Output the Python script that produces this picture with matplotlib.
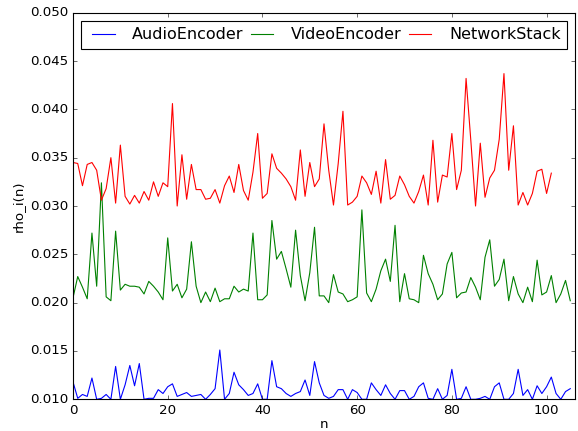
import matplotlib
matplotlib.use("Agg")
import matplotlib.pyplot as plt
import numpy as np

audio = [0.0118, 0.0101, 0.0105, 0.0103, 0.0122, 0.0100, 0.0101, 0.0105, 0.0100, 0.0134,
         0.0100, 0.0115, 0.0135, 0.0114, 0.0137, 0.0100, 0.0101, 0.0101, 0.0110, 0.0106,
         0.0113, 0.0116, 0.0103, 0.0105, 0.0107, 0.0103, 0.0104, 0.0105, 0.0100, 0.0105,
         0.0111, 0.0151, 0.0100, 0.0106, 0.0128, 0.0115, 0.0110, 0.0104, 0.0106, 0.0116,
         0.0100, 0.0100, 0.0140, 0.0113, 0.0111, 0.0106, 0.0103, 0.0106, 0.0108, 0.0120,
         0.0104, 0.0139, 0.0117, 0.0104, 0.0101, 0.0103, 0.0110, 0.0110, 0.0100, 0.0110,
         0.0107, 0.0100, 0.0100, 0.0117, 0.0110, 0.0104, 0.0115, 0.0106, 0.0100, 0.0109,
         0.0109, 0.0100, 0.0103, 0.0113, 0.0117, 0.0101, 0.0100, 0.0111, 0.0100, 0.0104,
         0.0131, 0.0100, 0.0101, 0.0113, 0.0100, 0.0100, 0.0101, 0.0103, 0.0100, 0.0113,
         0.0117, 0.0100, 0.0100, 0.0106, 0.0131, 0.0104, 0.0110, 0.0100, 0.0114, 0.0106,
         0.0113, 0.0123, 0.0106, 0.0100, 0.0108, 0.0111]

video = [0.0205, 0.0227, 0.0216, 0.0204, 0.0272, 0.0217, 0.0324, 0.0206, 0.0202, 0.0274,
         0.0213, 0.0219, 0.0217, 0.0217, 0.0216, 0.0209, 0.0222, 0.0217, 0.0211, 0.0203,
         0.0267, 0.0212, 0.0219, 0.0205, 0.0214, 0.0263, 0.0217, 0.0200, 0.0211, 0.0201,
         0.0215, 0.0201, 0.0204, 0.0204, 0.0217, 0.0211, 0.0214, 0.0212, 0.0272, 0.0203,
         0.0203, 0.0208, 0.0285, 0.0245, 0.0253, 0.0235, 0.0216, 0.0275, 0.0228, 0.0202,
         0.0231, 0.0278, 0.0207, 0.0207, 0.0200, 0.0229, 0.0211, 0.0209, 0.0201, 0.0203,
         0.0206, 0.0296, 0.0210, 0.0201, 0.0214, 0.0233, 0.0245, 0.0222, 0.0280, 0.0201,
         0.0230, 0.0204, 0.0203, 0.0200, 0.0249, 0.0230, 0.0219, 0.0203, 0.0209, 0.0240,
         0.0252, 0.0205, 0.0210, 0.0211, 0.0226, 0.0216, 0.0203, 0.0247, 0.0265, 0.0217,
         0.0224, 0.0245, 0.0202, 0.0227, 0.0209, 0.0200, 0.0216, 0.0201, 0.0244, 0.0208,
         0.0211, 0.0228, 0.0200, 0.0209, 0.0223, 0.0202]

network = [0.0345, 0.0344, 0.0321, 0.0343, 0.0345, 0.0337, 0.0306, 0.0318, 0.0350, 0.0303,
           0.0363, 0.0310, 0.0302, 0.0311, 0.0303, 0.0315, 0.0306, 0.0325, 0.0310, 0.0324,
           0.0320, 0.0406, 0.0300, 0.0353, 0.0307, 0.0343, 0.0317, 0.0317, 0.0307, 0.0308,
           0.0317, 0.0303, 0.0321, 0.0331, 0.0314, 0.0343, 0.0316, 0.0306, 0.0335, 0.0375,
           0.0308, 0.0313, 0.0354, 0.0339, 0.0334, 0.0328, 0.0320, 0.0306, 0.0358, 0.0310,
           0.0345, 0.0320, 0.0328, 0.0385, 0.0337, 0.0301, 0.0344, 0.0398, 0.0301, 0.0304,
           0.0310, 0.0331, 0.0324, 0.0312, 0.0336, 0.0303, 0.0348, 0.0307, 0.0311, 0.0331,
           0.0322, 0.0310, 0.0303, 0.0315, 0.0332, 0.0301, 0.0368, 0.0304, 0.0332, 0.0330,
           0.0375, 0.0317, 0.0337, 0.0432, 0.0368, 0.0300, 0.0365, 0.0309, 0.0329, 0.0337,
           0.0369, 0.0437, 0.0337, 0.0383, 0.0301, 0.0314, 0.0301, 0.0313, 0.0336, 0.0338,
           0.0313, 0.0334]

labels = ["AudioEncoder", "VideoEncoder", "NetworkStack"]
colors = ["b", "g", "r"]

plt.style.use("classic")
W, H = 578, 431
DPI = 80
fig = plt.figure(figsize=(W / DPI, H / DPI), dpi=DPI)
ax = fig.add_axes([73 / W, 1 - 399.3 / H, (575 - 73) / W, (399.3 - 12.7) / H])

for series, lab, col in zip([audio, video, network], labels, colors):
    ax.plot(np.arange(len(series)), series, color=col, lw=1.0, label=lab)

ax.set_xlim(0, 106)
ax.set_ylim(0.010, 0.050)
ax.set_xticks([0, 20, 40, 60, 80, 100])
ax.set_yticks(np.arange(0.010, 0.0501, 0.005))
ax.yaxis.set_major_formatter(matplotlib.ticker.FormatStrFormatter("%.3f"))
ax.tick_params(labelsize=12)
ax.set_xlabel("n", fontsize=12, labelpad=1)
ax.set_ylabel("rho_i(n)", fontsize=12)
ax.legend(loc="upper left", ncol=3, mode="expand", fontsize=14.4)

fig.savefig("out.png", dpi=DPI)
